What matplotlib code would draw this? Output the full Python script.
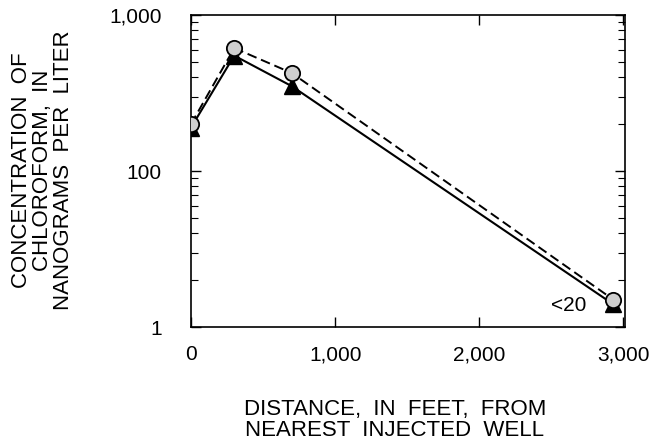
import matplotlib
matplotlib.use('Agg')
import matplotlib.pyplot as plt

plt.rcParams['font.family'] = ['Liberation Sans', 'DejaVu Sans']

# datos
distancia = [0, 300, 700, 2930]
conc_triangulo = [190, 550, 350, 14]   # linea continua, triangulos negros
conc_circulo = [200, 615, 425, 15]     # linea discontinua, circulos grises

yticks = [10, 100, 1000]
yticklabels = ['1', '100', '1,000']
xticks = [0, 1000, 2000, 3000]
xticklabels = ['0', '1,000', '2,000', '3,000']

fig = plt.figure(figsize=(6.69, 4.45), dpi=100)
ax = fig.add_axes([0.2855, 0.265, 0.6485, 0.701])

ax.plot(distancia, conc_triangulo, '-', color='black', lw=1.5,
        marker='^', markersize=12, markerfacecolor='black', markeredgecolor='black', zorder=3)
ax.plot(distancia, conc_circulo, '--', color='black', lw=1.4, dashes=(5, 2.5),
        marker='o', markersize=11, markerfacecolor='#cfcfcf', markeredgecolor='black',
        markeredgewidth=1.3, zorder=4)

ax.set_yscale('log')
ax.set_ylim(10, 1000)
ax.set_xlim(0, 3010)
ax.set_yticks(yticks, labels=yticklabels)
ax.set_xticks(xticks, labels=xticklabels)
ax.minorticks_on()
ax.xaxis.set_minor_locator(matplotlib.ticker.NullLocator())

ax.tick_params(axis='both', which='major', direction='in', length=7, width=1,
               top=True, right=True, labelsize=15)
ax.tick_params(axis='y', which='major', pad=21)
ax.tick_params(axis='x', which='major', pad=13)
ax.tick_params(axis='y', which='minor', direction='in', length=5, width=0.8, right=True)
for s in ax.spines.values():
    s.set_linewidth(1.2)

ax.text(2620, 13.8, '<20', fontsize=15, ha='center', va='center')

fig.text(0.063, 0.618, 'CONCENTRATION  OF\nCHLOROFORM,  IN\nNANOGRAMS  PER  LITER',
         rotation=90, ha='center', va='center', fontsize=16, linespacing=1.0)
fig.text(0.59, 0.056, 'DISTANCE,  IN  FEET,  FROM\nNEAREST  INJECTED  WELL',
         ha='center', va='center', fontsize=16, linespacing=1.0)

fig.savefig('out.png', dpi=100)
